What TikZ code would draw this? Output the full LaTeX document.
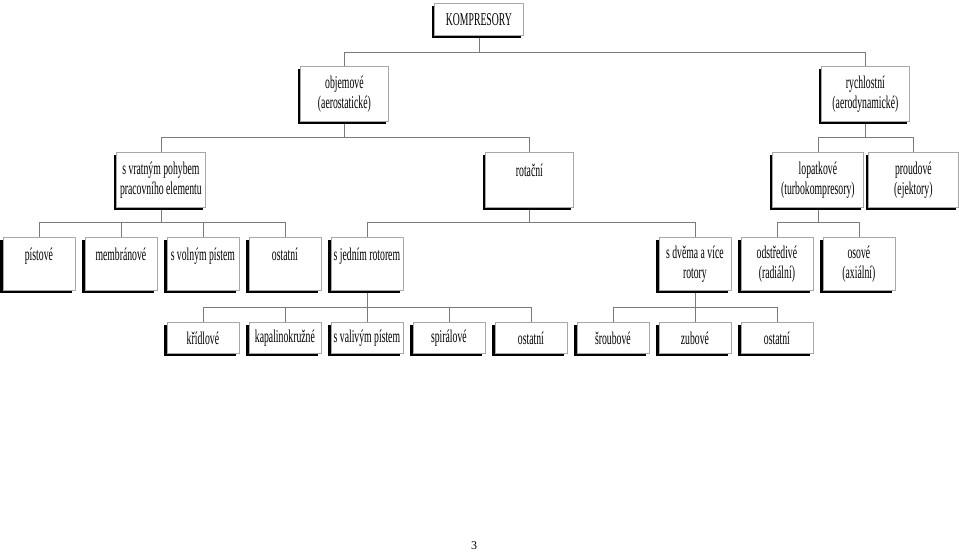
\documentclass[tikz,border=0pt]{standalone}
\usepackage{fontspec}
\setmainfont{Liberation Serif}
\newfontfamily\condfont[FakeStretch=0.54]{Liberation Serif}
\usetikzlibrary{shadows,backgrounds}
\definecolor{boxgray}{HTML}{A8A8A8}
\definecolor{linegray}{HTML}{7A7A7A}
\tikzset{
  cbox/.style={draw=boxgray, line width=0.8pt, fill=white, anchor=north west,
    inner sep=0pt, align=center, font=\condfont\fontsize{18}{20}\selectfont,
    general shadow={fill=black, shadow xshift=-2.5pt, shadow yshift=-2.5pt}},
  topbox/.style={cbox, minimum width=89pt, minimum height=32pt},
  lvone/.style={cbox, minimum width=88pt, minimum height=55pt},
  lvtwo/.style={cbox, minimum width=#1, minimum height=55pt},
  lvthree/.style={cbox, minimum width=72pt, minimum height=53pt},
  lvfour/.style={cbox, minimum width=72pt, minimum height=31pt},
  conn/.style={draw=linegray, line width=0.8pt},
}
\begin{document}
\begin{tikzpicture}[x=1pt,y=-1pt]
\useasboundingbox (0,0) rectangle (959,554);
% level 0
\node[topbox] (K) at (434,3) {KOMPRESORY};
% level 1
\node[lvone] (obj) at (300,66) {objemové\\(aerostatické)};
\node[lvone] (ry) at (821,66) {rychlostní\\(aerodynamické)};
% level 2
\node[lvtwo=89pt] (svr) at (116,152) {s vratným pohybem\\pracovního elementu};
\node[lvtwo=88pt] (rot) at (485,152) {rotační\\\mbox{}};
\node[lvtwo=91pt] (lop) at (772,152) {lopatkové\\(turbokompresory)};
\node[lvtwo=90pt] (pro) at (868,152) {proudové\\(ejektory)};
% level 3
\node[lvthree] (pis) at (2.5,237) {pístové\\\mbox{}};
\node[lvthree] (mem) at (84.5,237) {membránové\\\mbox{}};
\node[lvthree] (svol) at (166.5,237) {s volným pístem\\\mbox{}};
\node[lvthree] (ostA) at (248.5,237) {ostatní\\\mbox{}};
\node[lvthree] (sjed) at (330.5,237) {s jedním rotorem\\\mbox{}};
\node[lvthree] (sdve) at (658.5,237) {s dvěma a více\\rotory};
\node[lvthree] (ods) at (740.5,237) {odstředivé\\(radiální)};
\node[lvthree] (oso) at (822.5,237) {osové\\(axiální)};
% level 4
\node[lvfour] (kri) at (166.5,322) {křídlové};
\node[lvfour] (kap) at (248.5,322) {kapalinokružné};
\node[lvfour] (sval) at (330.5,322) {s valivým pístem};
\node[lvfour] (spi) at (412.5,322) {spirálové};
\node[lvfour] (ostB) at (494.5,322) {ostatní};
\node[lvfour] (sro) at (576.5,322) {šroubové};
\node[lvfour] (zub) at (658.5,322) {zubové};
\node[lvfour] (ostC) at (740.5,322) {ostatní};
% page number
\node[font=\fontsize{12}{14}\selectfont, inner sep=0pt] (pg) at (474,546) {3};
% bus levels
\coordinate (b1) at (0,52);
\coordinate (b2) at (0,137);
\coordinate (b3) at (0,222);
\coordinate (b4) at (0,307);
\begin{scope}[on background layer]
\draw[conn] (K.south) -- (K.south |- b1) -| (obj.north);
\draw[conn] (K.south |- b1) -| (ry.north);
\draw[conn] (obj.south) -- (obj.south |- b2) -| (svr.north);
\draw[conn] (obj.south |- b2) -| (rot.north);
\draw[conn] (ry.south) -- (ry.south |- b2) -| (lop.north);
\draw[conn] (ry.south |- b2) -| (pro.north);
\draw[conn] (svr.south) -- (svr.south |- b3) -| (pis.north);
\draw[conn] (svr.south |- b3) -| (mem.north);
\draw[conn] (svr.south |- b3) -| (svol.north);
\draw[conn] (svr.south |- b3) -| (ostA.north);
\draw[conn] (rot.south) -- (rot.south |- b3) -| (sjed.north);
\draw[conn] (rot.south |- b3) -| (sdve.north);
\draw[conn] (lop.south) -- (lop.south |- b3) -| (ods.north);
\draw[conn] (lop.south |- b3) -| (oso.north);
\draw[conn] (sjed.south) -- (sjed.south |- b4) -| (kri.north);
\draw[conn] (sjed.south |- b4) -| (kap.north);
\draw[conn] (sjed.south |- b4) -| (sval.north);
\draw[conn] (sjed.south |- b4) -| (spi.north);
\draw[conn] (sjed.south |- b4) -| (ostB.north);
\draw[conn] (sdve.south) -- (sdve.south |- b4) -| (sro.north);
\draw[conn] (sdve.south |- b4) -| (zub.north);
\draw[conn] (sdve.south |- b4) -| (ostC.north);
\end{scope}
\end{tikzpicture}
\end{document}
